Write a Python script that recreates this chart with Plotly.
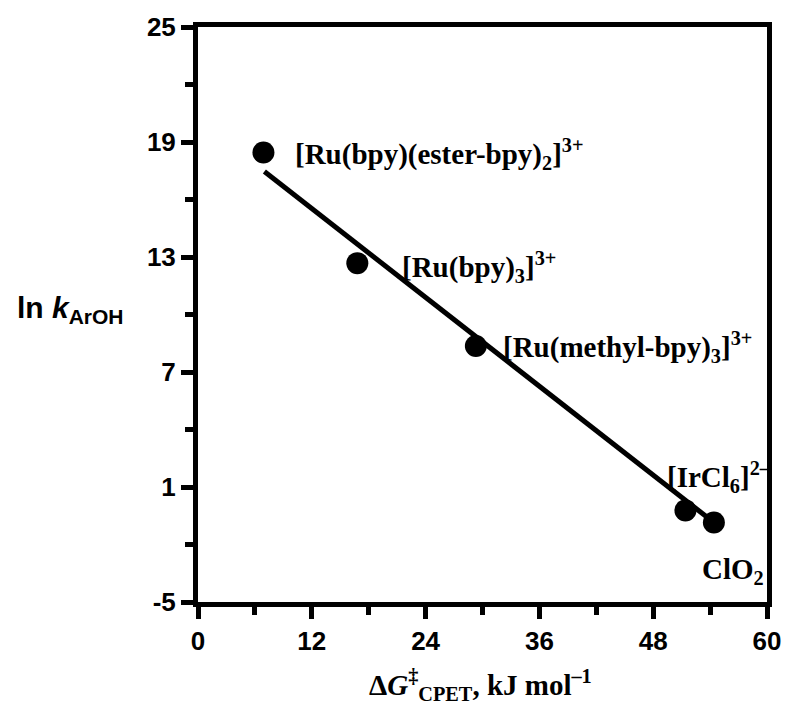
import plotly.graph_objects as go

# Driving force vs. rate constant for the oxidants
dG_cpet = [6.9, 16.8, 29.3, 51.4, 54.4]          # kJ mol^-1
ln_k = [18.45, 12.68, 8.36, -0.22, -0.85]
oxidant_labels = [
    "[Ru(bpy)(ester-bpy)<sub>2</sub>]<sup>3+</sup>",
    "[Ru(bpy)<sub>3</sub>]<sup>3+</sup>",
    "[Ru(methyl-bpy)<sub>3</sub>]<sup>3+</sup>",
    "[IrCl<sub>6</sub>]<sup>2–</sup>",
    "ClO<sub>2</sub>",
]

# Linear fit drawn across the data range
fit_x = [7.0, 54.4]
fit_y = [17.46, -0.85]

x_ticks = [0, 12, 24, 36, 48, 60]
y_ticks = [-5, 1, 7, 13, 19, 25]

# label anchor positions (data coordinates, left edge / vertical middle)
label_pos = [(10.0, 18.4), (21.3, 12.5), (31.9, 8.3), (49.2, 1.5), (52.9, -3.4)]

W, H = 793, 711
ML, MR, MT, MB = 198, 23, 25, 109

serif = dict(family="Liberation Serif", size=29, color="black", weight="bold")
sans = dict(family="Liberation Sans", size=26, color="black", weight="bold")


def paper_xy(px, py):
    """Convert page pixels to paper coordinates of the plot area."""
    return (px - ML) / (W - ML - MR), 1 - (py - MT) / (H - MT - MB)


fig = go.Figure()
fig.add_trace(go.Scatter(x=fit_x, y=fit_y, mode="lines",
                         line=dict(color="black", width=5), hoverinfo="skip"))
fig.add_trace(go.Scatter(x=dG_cpet, y=ln_k, mode="markers",
                         marker=dict(color="black", size=22)))

for (lx, ly), txt in zip(label_pos, oxidant_labels):
    fig.add_annotation(x=lx, y=ly, text=txt, showarrow=False,
                       xanchor="left", yanchor="middle", font=serif)

# y-axis title (horizontal)
yx, yy = paper_xy(70, 308)
fig.add_annotation(x=yx, y=yy, xref="paper", yref="paper", text="ln <i>k</i><sub>ArOH</sub>",
                   showarrow=False, xanchor="center", yanchor="middle",
                   font=dict(family="Liberation Sans", size=30, color="black", weight="bold"))
# x-axis title
tx, ty = paper_xy(482, 685)
fig.add_annotation(x=tx, y=ty, xref="paper", yref="paper",
                   text="Δ<i>G</i><sup>‡</sup><sub>CPET</sub>, kJ mol<sup>–1</sup>",
                   showarrow=False, xanchor="center", yanchor="middle", font=serif)

fig.update_layout(
    width=W, height=H,
    margin=dict(l=ML, r=MR, t=MT, b=MB),
    plot_bgcolor="white", paper_bgcolor="white",
    showlegend=False,
)

axis_common = dict(showline=True, linecolor="black", linewidth=5, mirror=True,
                   showgrid=False, zeroline=False, ticks="outside",
                   tickcolor="black", tickwidth=5, ticklen=12, tickfont=sans)

fig.update_xaxes(range=[0, 60], tickvals=x_ticks, ticktext=[str(v) for v in x_ticks],
                 minor=dict(ticks="outside", ticklen=8, tickwidth=5, tickcolor="black", dtick=6, tick0=0),
                 **axis_common)
fig.update_yaxes(range=[-5, 25], tickvals=y_ticks, ticktext=[str(v) for v in y_ticks],
                 minor=dict(ticks="outside", ticklen=8, tickwidth=5, tickcolor="black", dtick=3, tick0=-5),
                 **axis_common)

fig.write_html("out.html")
